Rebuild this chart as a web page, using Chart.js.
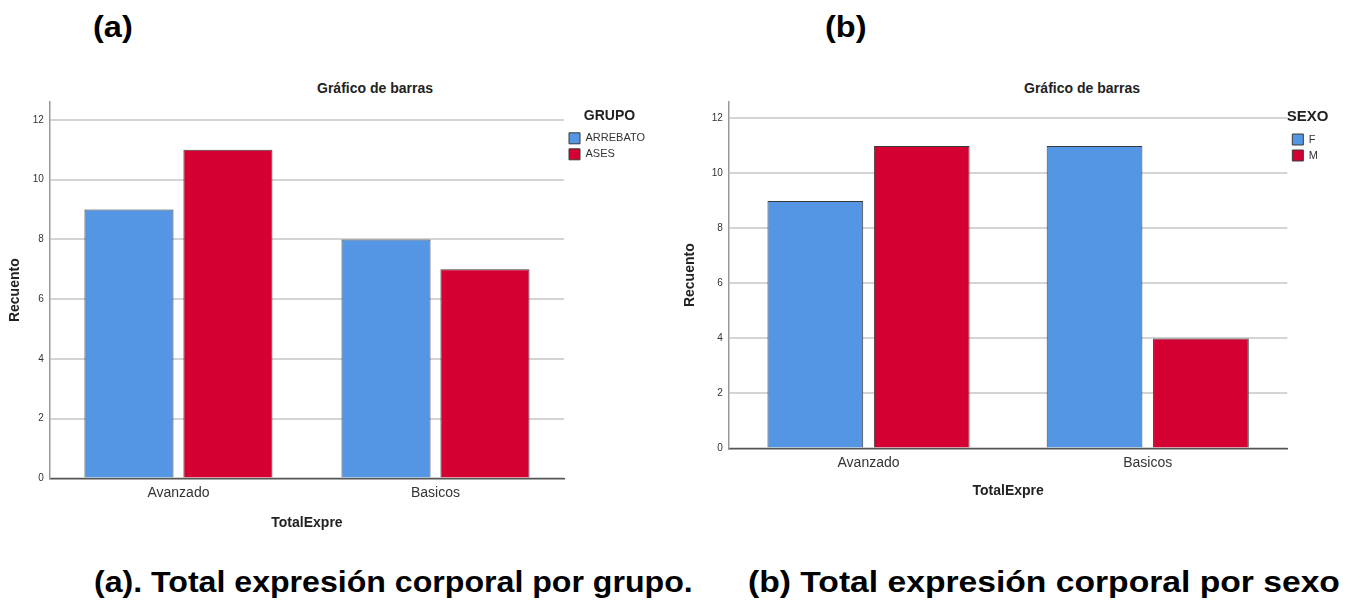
<!DOCTYPE html>
<html>
<head>
<meta charset="utf-8">
<script src="https://cdn.jsdelivr.net/npm/chart.js@4/dist/chart.umd.min.js"></script>
<style>
  body { margin: 0; background: #fff; font-family: Arial, "Liberation Sans", sans-serif; }
  #page { position: relative; width: 1357px; height: 601px; overflow: hidden; }
  .txt { position: absolute; font-weight: bold; color: #000; white-space: nowrap; transform-origin: left top; }
  .head { font-size: 29px; top: 11px; transform: scaleX(1.12); }
  .cap { font-size: 29px; top: 566px; }
  .ctitle { font-size: 14px; color: #222; top: 80px; transform: translateX(-50%); }
  .box { position: absolute; }
</style>
</head>
<body>
<div id="page">
  <div class="txt head" style="left:93px">(a)</div>
  <div class="txt head" style="left:825px">(b)</div>
  <div class="txt ctitle" style="left:375px">Gráfico de barras</div>
  <div class="txt ctitle" style="left:1082px">Gráfico de barras</div>
  <div class="box" style="left:0px; top:90px; width:655px; height:446px"><canvas id="chartA"></canvas></div>
  <div class="box" style="left:672px; top:90px; width:656px; height:414px"><canvas id="chartB"></canvas></div>
  <div class="txt cap" style="left:94px; transform: scaleX(1.107)">(a). Total expresión corporal por grupo.</div>
  <div class="txt cap" style="left:748px; transform: scaleX(1.16)">(b) Total expresión corporal por sexo</div>
</div>
<script>
// data
const categories = ['Avanzado', 'Basicos'];
const grupoLabels = ['ARREBATO', 'ASES'];
const arrebato = [9, 8];
const ases = [11, 7];
const sexoLabels = ['F', 'M'];
const sexoF = [9, 11];
const sexoM = [11, 4];
const yTicks = [0, 2, 4, 6, 8, 10, 12];

const BLUE = '#5596e4';
const RED = '#d50032';
const FONT = 'Arial, "Liberation Sans", sans-serif';

function makeChart(id, legendTitle, labels, seriesA, seriesB, opts) {
  const ctx = document.getElementById(id).getContext('2d');
  return new Chart(ctx, {
    type: 'bar',
    data: {
      labels: categories,
      datasets: [
        { label: labels[0], data: seriesA, backgroundColor: BLUE, borderColor: '#3a3a3a', borderWidth: 1,
          barPercentage: opts.barPct, categoryPercentage: opts.catPct },
        { label: labels[1], data: seriesB, backgroundColor: RED, borderColor: '#3a3a3a', borderWidth: 1,
          barPercentage: opts.barPct, categoryPercentage: opts.catPct }
      ]
    },
    options: {
      responsive: true,
      maintainAspectRatio: false,
      animation: false,
      layout: { padding: { top: 10, right: 0, bottom: 0, left: 0 } },
      plugins: {
        title: { display: false },
        tooltip: { enabled: false },
        legend: {
          display: true,
          position: 'right',
          align: 'start',
          title: { display: true, text: legendTitle, color: '#222', font: { family: FONT, size: opts.legTitleSize, weight: 'bold' }, padding: { top: 9, bottom: 2 } },
          labels: { boxWidth: 11, boxHeight: 11, padding: 5, color: '#333', font: { family: FONT, size: 11 } }
        }
      },
      scales: {
        x: {
          grid: { display: false, drawTicks: false },
          border: { display: true, color: '#555', width: 1.5 },
          ticks: { color: '#333', padding: 6, font: { family: FONT, size: 14 } },
          title: { display: true, text: 'TotalExpre', color: '#222', font: { family: FONT, size: 14, weight: 'bold' }, padding: { top: opts.xTitlePad, bottom: 4 } }
        },
        y: {
          min: 0,
          max: 12.6,
          afterBuildTicks: (scale) => { scale.ticks = yTicks.map(v => ({ value: v })); },
          grid: { color: '#d4d4d4', lineWidth: 2, drawTicks: false },
          border: { display: true, color: '#999', width: 1.5 },
          ticks: { color: '#333', padding: 6, font: { family: FONT, size: 10 } },
          title: { display: true, text: 'Recuento', color: '#222', font: { family: FONT, size: 14, weight: 'bold' }, padding: { top: opts.yTitlePadOut, bottom: opts.yTitlePadIn } }
        }
      }
    }
  });
}

makeChart('chartA', 'GRUPO', grupoLabels, arrebato, ases, { barPct: 0.9, catPct: 0.77, xTitlePad: 8, yTitlePadOut: 7, yTitlePadIn: 3, legTitleSize: 14 });
makeChart('chartB', 'SEXO', sexoLabels, sexoF, sexoM, { barPct: 0.9, catPct: 0.762, xTitlePad: 6, yTitlePadOut: 10, yTitlePadIn: 7, legTitleSize: 15 });
</script>
</body>
</html>
